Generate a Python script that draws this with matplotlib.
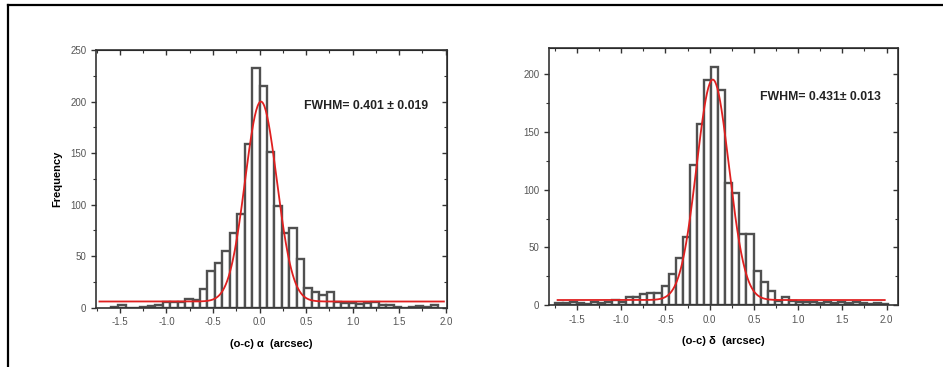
import matplotlib
matplotlib.use("Agg")
import matplotlib.pyplot as plt
import numpy as np
from matplotlib.lines import Line2D
from matplotlib.ticker import MultipleLocator

plt.rcParams['font.family'] = ['Liberation Sans', 'DejaVu Sans']
plt.rcParams['axes.unicode_minus'] = False

# Histogram data (bin width 0.08 arcsec)
bin_width = 0.08

# Right ascension residuals
ra_first_edge = -1.60
ra_counts = [1, 3, 0, 0, 1, 2, 3, 6, 6, 6, 8, 7,
             18, 36, 43, 55, 72, 91, 159, 233, 215, 151, 99, 72, 77, 47,
             19, 15, 12, 15, 6, 5, 5, 4, 5, 6, 3, 3, 1, 0, 1, 2, 1, 3]

# Declination residuals
dec_first_edge = -1.744
dec_counts = [2, 2, 3, 2, 1, 3, 2, 3, 5, 3, 7, 7, 10, 11, 11,
              17, 27, 41, 59, 121, 157, 195, 206, 186, 106, 97, 62, 62,
              30, 20, 12, 4, 7, 4, 3, 3, 3, 2, 3, 2, 3, 2, 3, 2, 1, 2, 1]

# Gaussian fit parameters: offset, centre, amplitude, FWHM
ra_fit = dict(y0=6.0, xc=0.015, amp=194.0, fwhm=0.401)
dec_fit = dict(y0=4.6, xc=0.035, amp=190.5, fwhm=0.431)

ra_label = "FWHM= 0.401 \u00b1 0.019"
dec_label = "FWHM= 0.431\u00b1 0.013"


def gauss(x, p):
    return p['y0'] + p['amp'] * np.exp(-4 * np.log(2) * (x - p['xc']) ** 2 / p['fwhm'] ** 2)


def draw_panel(ax, first_edge, counts, fit, xlim, ylim):
    lefts = first_edge + bin_width * np.arange(len(counts))
    ax.bar(lefts, counts, width=bin_width, align='edge', color='white',
           edgecolor='#505050', linewidth=1.7, zorder=2)
    xs = np.linspace(-1.72, 1.98, 500)
    ax.plot(xs, gauss(xs, fit), color='#e02020', linewidth=1.3, zorder=3)
    ax.set_xlim(*xlim)
    ax.set_ylim(*ylim)
    ax.xaxis.set_major_locator(MultipleLocator(0.5))
    ax.xaxis.set_minor_locator(MultipleLocator(0.25))
    ax.yaxis.set_major_locator(MultipleLocator(50))
    ax.yaxis.set_minor_locator(MultipleLocator(25))
    ax.tick_params(which='major', direction='out', length=3.5, width=1,
                   labelsize=7, labelcolor='#555555', color='#333333')
    ax.tick_params(which='minor', direction='out', length=2, width=0.8, color='#333333')
    for s in ax.spines.values():
        s.set_linewidth(1.2)
        s.set_color('#333333')
    # inward ticks on top and right
    top = ax.secondary_xaxis('top')
    top.xaxis.set_major_locator(MultipleLocator(0.5))
    top.xaxis.set_minor_locator(MultipleLocator(0.25))
    top.tick_params(which='major', direction='in', length=3.5, width=1,
                    labeltop=False, color='#333333')
    top.tick_params(which='minor', direction='in', length=2, width=0.8, color='#333333')
    right = ax.secondary_yaxis('right')
    right.yaxis.set_major_locator(MultipleLocator(50))
    right.yaxis.set_minor_locator(MultipleLocator(25))
    right.tick_params(which='major', direction='in', length=3.5, width=1,
                      labelright=False, color='#333333')
    right.tick_params(which='minor', direction='in', length=2, width=0.8, color='#333333')


fig = plt.figure(figsize=(9.43, 3.67), dpi=100)

ax1 = fig.add_axes([0.1018, 0.1616, 0.3719, 0.702])
draw_panel(ax1, ra_first_edge, ra_counts, ra_fit, (-1.757, 2.01), (0, 250))
ax1.text(0.593, 0.783, ra_label, transform=ax1.transAxes, fontsize=8.8,
         fontweight='bold', color='#222222', va='center')
ax1.set_ylabel("Frequency", fontsize=8, fontweight='bold', labelpad=6)
ax1.set_xlabel("(o-c) \u03b1  (arcsec)", fontsize=8, fontweight='bold', labelpad=8)

ax2 = fig.add_axes([0.5822, 0.168, 0.3698, 0.700])
draw_panel(ax2, dec_first_edge, dec_counts, dec_fit, (-1.817, 2.127), (0, 222))
ax2.text(0.605, 0.81, dec_label, transform=ax2.transAxes, fontsize=8.8,
         fontweight='bold', color='#222222', va='center')
ax2.set_xlabel("(o-c) \u03b4  (arcsec)", fontsize=8, fontweight='bold', labelpad=8)

# outer frame (top and left edges)
fig.add_artist(Line2D([8 / 943, 1.0], [1 - 5 / 367, 1 - 5 / 367],
                      transform=fig.transFigure, color='black', linewidth=1.6))
fig.add_artist(Line2D([8 / 943, 8 / 943], [0, 1 - 5 / 367],
                      transform=fig.transFigure, color='black', linewidth=1.6))

fig.savefig("out.png", dpi=100)
